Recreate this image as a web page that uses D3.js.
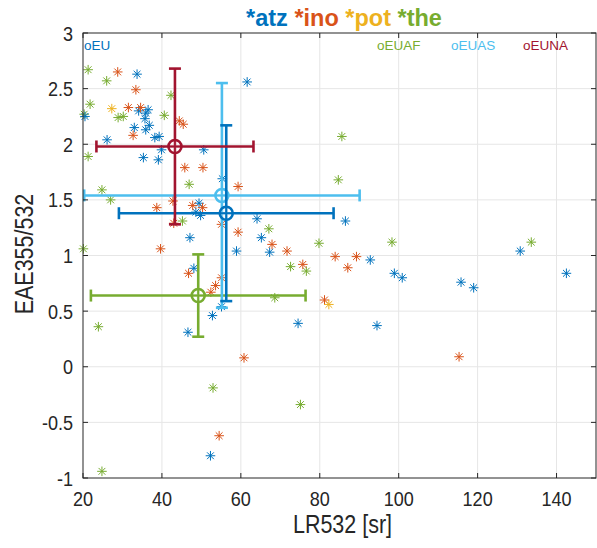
<!DOCTYPE html>
<html>
<head>
<meta charset="utf-8">
<script src="https://cdn.jsdelivr.net/npm/d3@7"></script>
<style>
  body { margin: 0; background: #fff; }
  svg { font-family: "Liberation Sans", Arial, sans-serif; }
</style>
</head>
<body>
<div id="chartContainer"></div>
<script>
// scatter data [LR532, EAE355/532]
const atz = [
  [33.7, 2.63], [36.5, 2.31], [34.1, 2.30], [35.9, 2.28], [20.5, 2.25], [35.7, 2.23],
  [33.0, 2.15], [36.8, 2.17], [35.9, 2.13], [38.2, 2.06], [39.3, 2.07], [26.1, 2.04],
  [39.9, 1.95], [50.6, 1.95], [35.3, 1.88], [39.1, 1.86], [61.6, 2.56], [55.3, 1.69],
  [49.4, 1.47], [48.6, 1.39], [49.8, 1.36], [64.1, 1.33], [86.5, 1.31], [47.1, 1.16],
  [65.2, 1.16], [58.9, 1.04], [67.3, 1.03], [92.8, 0.96], [98.9, 0.84], [100.9, 0.80],
  [115.8, 0.76], [119.0, 0.71], [130.8, 1.04], [142.5, 0.84], [48.1, 0.885], [55.1, 0.54],
  [52.8, 0.46], [46.6, 0.31], [74.5, 0.39], [94.5, 0.37], [52.3, -0.80]
];
const ino = [
  [28.8, 2.65], [33.4, 2.49], [31.5, 2.33], [34.6, 2.33], [44.4, 2.21], [45.4, 2.18],
  [32.7, 2.08], [45.8, 1.79], [50.4, 1.79], [59.3, 1.62], [42.8, 1.49], [38.7, 1.43],
  [47.8, 1.45], [50.3, 1.43], [43.0, 1.29], [55.1, 1.28], [59.3, 1.21], [67.9, 1.10],
  [71.7, 1.04], [83.9, 0.99], [89.3, 0.99], [75.7, 0.92], [87.1, 0.89], [39.65, 1.06],
  [46.75, 0.84], [55.1, 0.80], [53.6, 0.73], [52.4, 0.67], [81.2, 0.60], [60.8, 0.08],
  [115.3, 0.09], [54.5, -0.62]
];
const pot = [[27.3, 2.32], [82.3, 0.56]];
const the = [
  [21.3, 2.67], [26.0, 2.57], [42.3, 2.44], [21.8, 2.36], [20.3, 2.27], [28.9, 2.24],
  [30.2, 2.25], [40.6, 2.26], [21.3, 1.89], [46.9, 1.64], [24.8, 1.59], [27.0, 1.50],
  [45.2, 1.31], [85.6, 2.07], [84.7, 1.68], [67.1, 1.24], [79.8, 1.11], [98.3, 1.12],
  [133.6, 1.12], [72.6, 0.90], [76.6, 0.86], [68.6, 0.62], [20.1, 1.06], [23.9, 0.36],
  [52.95, -0.19], [75.1, -0.34], [24.8, -0.94]
];

// group means with errors
const groupNames = ["EUAF", "EUAS", "EU", "EUNA"];
const groupX = [49.2, 55.2, 56.3, 43.3];
const groupXErr = [27.2, 34.9, 27.2, 19.9];
const groupY = [0.64, 1.54, 1.38, 1.98];
const groupYErr = [0.37, 1.01, 0.79, 0.70];

const xTicks = [20, 40, 60, 80, 100, 120, 140];
const yTicks = [-1, -0.5, 0, 0.5, 1, 1.5, 2, 2.5, 3];

const colors = {
  atz: "#0072BD", ino: "#D95319", pot: "#EDB120", the: "#77AC30",
  EU: "#0072BD", EUAF: "#77AC30", EUAS: "#4DBEEE", EUNA: "#A2142F"
};

const W = 597, H = 548;
const m = { left: 83, right: 596, top: 33, bottom: 478 };

const svg = d3.select("#chartContainer").append("svg")
  .attr("width", W).attr("height", H);

const x = d3.scaleLinear().domain([20, 150]).range([m.left, m.right]);
const y = d3.scaleLinear().domain([-1, 3]).range([m.bottom, m.top]);

// grid
svg.append("g").selectAll("line").data(xTicks.slice(1)).enter().append("line")
  .attr("x1", d => x(d)).attr("x2", d => x(d))
  .attr("y1", m.top).attr("y2", m.bottom)
  .style("stroke", "#e6e6e6").style("stroke-width", 1);
svg.append("g").selectAll("line").data(yTicks.slice(1, -1)).enter().append("line")
  .attr("x1", m.left).attr("x2", m.right)
  .attr("y1", d => y(d)).attr("y2", d => y(d))
  .style("stroke", "#e6e6e6").style("stroke-width", 1);

// asterisk marker
const r = 4.8, dd = r * 0.707;
const star = `M${-r},0L${r},0M0,${-r}L0,${r}M${-dd},${-dd}L${dd},${dd}M${-dd},${dd}L${dd},${-dd}`;

function drawSeries(data, color) {
  svg.append("g").selectAll("path").data(data).enter().append("path")
    .attr("d", star)
    .attr("transform", d => `translate(${x(d[0])},${y(d[1])})`)
    .style("fill", "none")
    .style("stroke", color)
    .style("stroke-width", 1);
}
drawSeries(the, colors.the);
drawSeries(atz, colors.atz);
drawSeries(ino, colors.ino);
drawSeries(pot, colors.pot);

// error bars
const cap = 6;
groupNames.forEach((name, i) => {
  const g = svg.append("g").style("stroke", colors[name]).style("fill", "none").style("stroke-width", 2.6);
  const cx = x(groupX[i]), cy = y(groupY[i]);
  const x0 = x(groupX[i] - groupXErr[i]), x1 = x(groupX[i] + groupXErr[i]);
  const y0 = y(groupY[i] - groupYErr[i]), y1 = y(groupY[i] + groupYErr[i]);
  g.append("line").attr("x1", x0).attr("x2", x1).attr("y1", cy).attr("y2", cy);
  g.append("line").attr("x1", cx).attr("x2", cx).attr("y1", y0).attr("y2", y1);
  g.append("line").attr("x1", x0).attr("x2", x0).attr("y1", cy - cap).attr("y2", cy + cap);
  g.append("line").attr("x1", x1).attr("x2", x1).attr("y1", cy - cap).attr("y2", cy + cap);
  g.append("line").attr("x1", cx - cap).attr("x2", cx + cap).attr("y1", y0).attr("y2", y0);
  g.append("line").attr("x1", cx - cap).attr("x2", cx + cap).attr("y1", y1).attr("y2", y1);
  g.append("circle").attr("cx", cx).attr("cy", cy).attr("r", 6.5).style("fill", "#fff").style("fill-opacity", 0.3);
  g.append("line").attr("x1", cx - 6.5).attr("x2", cx + 6.5).attr("y1", cy).attr("y2", cy).style("stroke-width", 1.6);
  g.append("line").attr("x1", cx).attr("x2", cx).attr("y1", cy - 6.5).attr("y2", cy + 6.5).style("stroke-width", 1.6);
});

// axes box and ticks (inward)
const axisColor = "#262626";
svg.append("rect")
  .attr("x", m.left).attr("y", m.top)
  .attr("width", m.right - m.left).attr("height", m.bottom - m.top)
  .style("fill", "none").style("stroke", axisColor).style("stroke-width", 1);

const tk = 5;
const tickG = svg.append("g").style("stroke", axisColor).style("stroke-width", 1);
xTicks.forEach(t => {
  tickG.append("line").attr("x1", x(t)).attr("x2", x(t)).attr("y1", m.bottom).attr("y2", m.bottom - tk);
  tickG.append("line").attr("x1", x(t)).attr("x2", x(t)).attr("y1", m.top).attr("y2", m.top + tk);
});
yTicks.forEach(t => {
  tickG.append("line").attr("x1", m.left).attr("x2", m.left + tk).attr("y1", y(t)).attr("y2", y(t));
  tickG.append("line").attr("x1", m.right).attr("x2", m.right - tk).attr("y1", y(t)).attr("y2", y(t));
});

// tick labels (the reference font is a bit condensed)
const sx = 0.86;
svg.append("g").selectAll("text").data(xTicks).enter().append("text")
  .attr("transform", d => `translate(${x(d)},506) scale(${sx},1)`)
  .style("text-anchor", "middle").style("font-size", "21px").style("fill", axisColor)
  .text(d => d);
svg.append("g").selectAll("text").data(yTicks).enter().append("text")
  .attr("transform", d => `translate(${m.left - 10},${y(d) + 7.5}) scale(${sx},1)`)
  .style("text-anchor", "end").style("font-size", "21px").style("fill", axisColor)
  .text(d => d);

// axis labels
svg.append("text")
  .attr("transform", `translate(${(m.left + m.right) / 2 + 3},533) scale(${sx},1)`)
  .style("text-anchor", "middle").style("font-size", "25px").style("fill", axisColor)
  .text("LR532 [sr]");
svg.append("text")
  .attr("transform", `translate(33, 254) rotate(-90) scale(${sx},1)`)
  .style("text-anchor", "middle").style("font-size", "25px").style("fill", axisColor)
  .text("EAE355/532");

// title
const title = svg.append("text")
  .attr("x", 344).attr("y", 26)
  .style("text-anchor", "middle").style("font-size", "23.5px").style("font-weight", "bold");
["atz", "ino", "pot", "the"].forEach((s, i) => {
  title.append("tspan").style("fill", colors[s]).text((i ? " *" : "*") + s);
});

// group labels
const labelX = [377, 451, 84, 523];
groupNames.forEach((name, i) => {
  svg.append("text")
    .attr("x", labelX[i]).attr("y", 50)
    .style("font-size", "13.5px").style("fill", colors[name])
    .text("o" + name);
});
</script>
</body>
</html>
